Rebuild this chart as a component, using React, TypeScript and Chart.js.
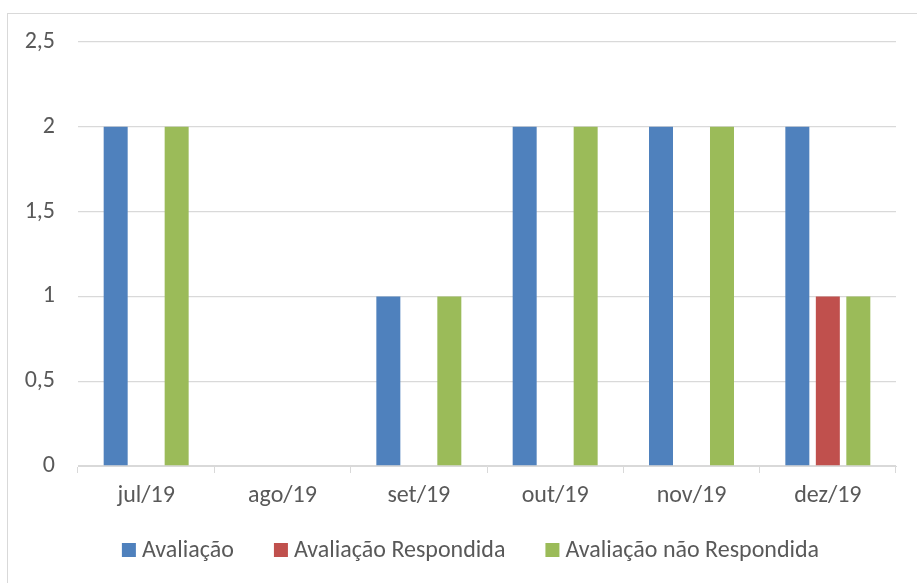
import React, { useEffect, useRef } from "react";
import { Chart, registerables } from "chart.js";

Chart.register(...registerables);

const categories = ["jul/19", "ago/19", "set/19", "out/19", "nov/19", "dez/19"];
const avaliacao = [2, 0, 1, 2, 2, 2];
const respondida = [0, 0, 0, 0, 0, 1];
const naoRespondida = [2, 0, 1, 2, 2, 1];
const seriesLabels = ["Avaliação", "Avaliação Respondida", "Avaliação não Respondida"];
const seriesColors = ["#4f81bd", "#c0504d", "#9bbb59"];
const yMin = 0;
const yMax = 2.5;
const yStep = 0.5;

const FONT = "Carlito, Lato, sans-serif";
const TEXT = "#595959";
const GRID = "#d9d9d9";
const TICK_SIZE = 24;
const LEGEND_SIZE = 24;

const legendPlugin = {
  id: "customLegend",
  afterDraw(chart: any) {
    const ctx = chart.ctx;
    ctx.save();
    ctx.font = `${LEGEND_SIZE}px ${FONT}`;
    const box = 14;
    const gap = 6;
    const itemGap = 40;
    const items = chart.data.datasets.map((ds: any) => ({
      text: ds.label,
      color: ds.backgroundColor,
      w: ctx.measureText(ds.label).width,
    }));
    const total =
      items.reduce((s: number, it: any) => s + box + gap + it.w, 0) + itemGap * (items.length - 1);
    let x = 470.5 - total / 2;
    const y = 550;
    items.forEach((it: any) => {
      ctx.fillStyle = it.color;
      ctx.fillRect(x, y - box / 2, box, box);
      ctx.fillStyle = TEXT;
      ctx.textBaseline = "middle";
      ctx.textAlign = "left";
      ctx.fillText(it.text, x + box + gap, y + 1);
      x += box + gap + it.w + itemGap;
    });
    ctx.restore();
  },
};

export default function App() {
  const ref = useRef<HTMLCanvasElement | null>(null);

  useEffect(() => {
    if (!ref.current) return;
    const chart = new Chart(ref.current, {
      type: "bar",
      data: {
        labels: categories,
        datasets: [avaliacao, respondida, naoRespondida].map((d, i) => ({
          label: seriesLabels[i],
          data: d,
          backgroundColor: seriesColors[i],
          borderWidth: 0,
          categoryPercentage: 0.671,
          barPercentage: 0.787,
        })),
      },
      options: {
        animation: false,
        responsive: false,
        maintainAspectRatio: false,
        layout: { padding: { top: 42, right: 21, bottom: 0, left: 0 } },
        plugins: {
          legend: { display: false },
          tooltip: { enabled: false },
        },
        scales: {
          x: {
            grid: {
              display: true,
              drawOnChartArea: false,
              drawTicks: true,
              tickLength: 7,
              color: GRID,
              offset: true,
            },
            border: { display: true, color: GRID, width: 1 },
            ticks: {
              color: TEXT,
              font: { family: FONT, size: TICK_SIZE },
              padding: 9,
              maxRotation: 0,
            },
            afterFit(scale: any) {
              scale.height = 117;
            },
          },
          y: {
            min: yMin,
            max: yMax,
            grid: { color: GRID, drawTicks: false, lineWidth: 1.3 },
            border: { display: false },
            ticks: {
              stepSize: yStep,
              color: TEXT,
              font: { family: FONT, size: TICK_SIZE },
              padding: 23,
              callback: (v: any) => String(v).replace(".", ","),
            },
            afterFit(scale: any) {
              scale.width = 78;
            },
          },
        },
      },
      plugins: [legendPlugin],
    });
    return () => chart.destroy();
  }, []);

  return (
    <div
      style={{
        position: "absolute",
        left: 0,
        top: 0,
        width: 917,
        height: 583,
        overflow: "hidden",
        background: "#fff",
      }}
    >
      <div
        style={{
          position: "absolute",
          left: 7,
          top: 13,
          width: 940,
          height: 600,
          border: `1px solid ${GRID}`,
        }}
      />
      <canvas
        ref={ref}
        width={917}
        height={583}
        style={{ position: "absolute", left: 0, top: 0, width: 917, height: 583 }}
      />
    </div>
  );
}
